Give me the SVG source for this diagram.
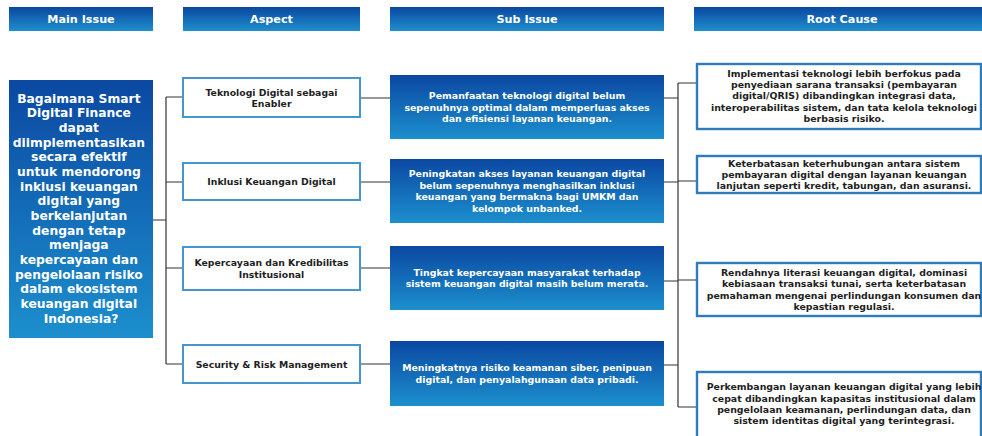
<svg xmlns="http://www.w3.org/2000/svg" width="982" height="436" viewBox="0 0 982 436">
<defs>
<linearGradient id="gh" x1="0" y1="0" x2="0" y2="1">
<stop offset="0" stop-color="#0a47a0"/>
<stop offset="1" stop-color="#1f8fcd"/>
</linearGradient>
<linearGradient id="gb" x1="0" y1="0" x2="0" y2="1">
<stop offset="0" stop-color="#0b48a2"/>
<stop offset="1" stop-color="#1c8fcd"/>
</linearGradient>
<style>
.hd{fill:url(#gh)}
.hdt{font-family:"DejaVu Sans",sans-serif;font-weight:bold;font-size:11.2px;fill:#fff;text-anchor:middle}
.blue{fill:url(#gb)}
.mt{font-family:"DejaVu Sans",sans-serif;font-weight:bold;font-size:12.3px;fill:#fff;text-anchor:middle}
.asp{fill:#fff;stroke:#4595cf;stroke-width:2}
.at{font-family:"DejaVu Sans",sans-serif;font-weight:bold;font-size:9.3px;fill:#1e1e1e;text-anchor:middle}
.st{font-family:"DejaVu Sans",sans-serif;font-weight:bold;font-size:9.4px;fill:#fff;text-anchor:middle}
.rc{fill:#fff;stroke:#2f7cbd;stroke-width:2.4}
.rt{font-family:"DejaVu Sans",sans-serif;font-weight:bold;font-size:9.4px;fill:#1e1e1e;text-anchor:middle}
.cn{fill:none;stroke:#333;stroke-width:1.2}
</style>
</defs>
<rect width="982" height="436" fill="#fff"/>

<g id="headers">
<rect class="hd" x="9" y="7" width="144" height="24"/>
<text class="hdt" x="81" y="23">Main Issue</text>
<rect class="hd" x="183" y="7" width="177" height="24"/>
<text class="hdt" x="271.5" y="23">Aspect</text>
<rect class="hd" x="390" y="7" width="274" height="24"/>
<text class="hdt" x="527" y="23">Sub Issue</text>
<rect class="hd" x="694" y="7" width="296" height="24"/>
<text class="hdt" x="842" y="23">Root Cause</text>
</g>

<g id="connectors">
<path class="cn" d="M153 220H166M166 97V364M166 97H183M166 182H183M166 268H183M166 364H183"/>
<path class="cn" d="M360 98H390M360 182H390M360 268H390M360 364H390"/>
<path class="cn" d="M678 83V407M664 98H678M664 182H678M664 281H678M664 365H678M678 83H697M678 181H697M678 280H697M678 407H697"/>
</g>

<g id="main-issue">
<rect class="blue" x="9" y="80" width="144" height="258"/>
<text class="mt">
<tspan x="81" y="102.6">Bagaimana Smart</tspan>
<tspan x="81" y="117.3">Digital Finance</tspan>
<tspan x="81" y="131.9">dapat</tspan>
<tspan x="81" y="146.6">diimplementasikan</tspan>
<tspan x="81" y="161.3">secara efektif</tspan>
<tspan x="81" y="175.9">untuk mendorong</tspan>
<tspan x="81" y="190.6">inklusi keuangan</tspan>
<tspan x="81" y="205.3">digital yang</tspan>
<tspan x="81" y="219.9">berkelanjutan</tspan>
<tspan x="81" y="234.6">dengan tetap</tspan>
<tspan x="81" y="249.3">menjaga</tspan>
<tspan x="81" y="263.9">kepercayaan dan</tspan>
<tspan x="81" y="278.6">pengelolaan risiko</tspan>
<tspan x="81" y="293.3">dalam ekosistem</tspan>
<tspan x="81" y="307.9">keuangan digital</tspan>
<tspan x="81" y="322.6">Indonesia?</tspan>
</text>
</g>

<g id="aspect-1">
<rect class="asp" x="183" y="78" width="177" height="39"/>
<text class="at"><tspan x="271.5" y="95.8">Teknologi Digital sebagai</tspan><tspan x="271.5" y="106.8">Enabler</tspan></text>
</g>
<g id="aspect-2">
<rect class="asp" x="183" y="163" width="177" height="37"/>
<text class="at" x="271.5" y="185">Inklusi Keuangan Digital</text>
</g>
<g id="aspect-3">
<rect class="asp" x="183" y="247" width="177" height="43"/>
<text class="at"><tspan x="271.5" y="266">Kepercayaan dan Kredibilitas</tspan><tspan x="271.5" y="277.7">Institusional</tspan></text>
</g>
<g id="aspect-4">
<rect class="asp" x="183" y="345" width="177" height="38"/>
<text class="at" x="271.5" y="367.7">Security &amp; Risk Management</text>
</g>

<g id="sub-1">
<rect class="blue" x="390" y="75" width="274" height="64"/>
<text class="st"><tspan x="527" y="99">Pemanfaatan teknologi digital belum</tspan><tspan x="527" y="110.5">sepenuhnya optimal dalam memperluas akses</tspan><tspan x="527" y="122">dan efisiensi layanan keuangan.</tspan></text>
</g>
<g id="sub-2">
<rect class="blue" x="390" y="159" width="274" height="64"/>
<text class="st"><tspan x="527" y="177.2">Peningkatan akses layanan keuangan digital</tspan><tspan x="527" y="188.7">belum sepenuhnya menghasilkan inklusi</tspan><tspan x="527" y="200.2">keuangan yang bermakna bagi UMKM dan</tspan><tspan x="527" y="211.7">kelompok unbanked.</tspan></text>
</g>
<g id="sub-3">
<rect class="blue" x="390" y="246" width="274" height="64"/>
<text class="st"><tspan x="527" y="275.7">Tingkat kepercayaan masyarakat terhadap</tspan><tspan x="527" y="287.2">sistem keuangan digital masih belum merata.</tspan></text>
</g>
<g id="sub-4">
<rect class="blue" x="390" y="341" width="274" height="65"/>
<text class="st"><tspan x="527" y="371.2">Meningkatnya risiko keamanan siber, penipuan</tspan><tspan x="527" y="382.7">digital, dan penyalahgunaan data pribadi.</tspan></text>
</g>

<g id="root-1">
<rect class="rc" x="697" y="64" width="284" height="65"/>
<text class="rt"><tspan x="844" y="76.7">Implementasi teknologi lebih berfokus pada</tspan><tspan x="844" y="88">penyediaan sarana transaksi (pembayaran</tspan><tspan x="844" y="99.3">digital/QRIS) dibandingkan integrasi data,</tspan><tspan x="844" y="110.6">interoperabilitas sistem, dan tata kelola teknologi</tspan><tspan x="844" y="121.9">berbasis risiko.</tspan></text>
</g>
<g id="root-2">
<rect class="rc" x="697" y="156" width="284" height="37"/>
<text class="rt"><tspan x="844" y="166.5">Keterbatasan keterhubungan antara sistem</tspan><tspan x="844" y="177.8">pembayaran digital dengan layanan keuangan</tspan><tspan x="844" y="189.1">lanjutan seperti kredit, tabungan, dan asuransi.</tspan></text>
</g>
<g id="root-3">
<rect class="rc" x="697" y="263" width="284" height="53"/>
<text class="rt"><tspan x="844" y="275.8">Rendahnya literasi keuangan digital, dominasi</tspan><tspan x="844" y="287.1">kebiasaan transaksi tunai, serta keterbatasan</tspan><tspan x="844" y="298.5">pemahaman mengenai perlindungan konsumen dan</tspan><tspan x="844" y="309.8">kepastian regulasi.</tspan></text>
</g>
<g id="root-4">
<rect class="rc" x="697" y="372" width="284" height="70"/>
<text class="rt"><tspan x="844" y="390.3">Perkembangan layanan keuangan digital yang lebih</tspan><tspan x="844" y="401.6">cepat dibandingkan kapasitas institusional dalam</tspan><tspan x="844" y="412.9">pengelolaan keamanan, perlindungan data, dan</tspan><tspan x="844" y="424.3">sistem identitas digital yang terintegrasi.</tspan></text>
</g>
</svg>
